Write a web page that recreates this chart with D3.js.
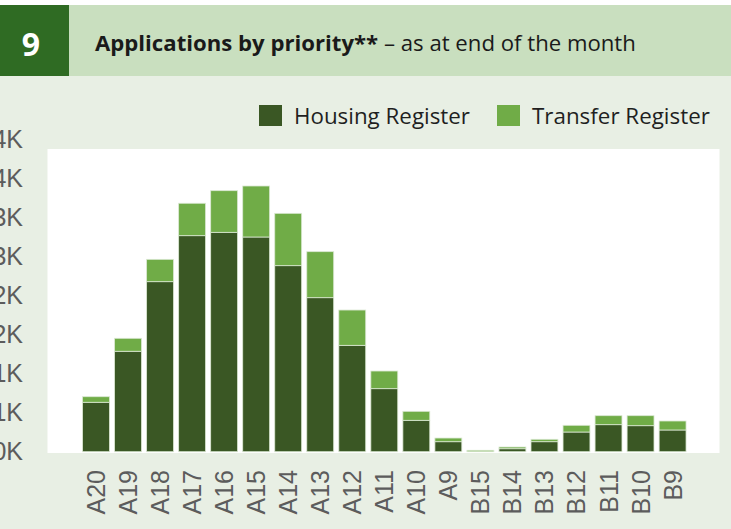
<!DOCTYPE html>
<html>
<head>
<meta charset="utf-8">
<script src="https://cdn.jsdelivr.net/npm/d3@7"></script>
<style>
  html, body { margin: 0; padding: 0; background: #ffffff; }
  svg { display: block; }
</style>
</head>
<body>
<script>
// values
var categories = ["A20", "A19", "A18", "A17", "A16", "A15", "A14", "A13", "A12", "A11",
                  "A10", "A9", "B15", "B14", "B13", "B12", "B11", "B10", "B9"];
var housing = [633, 1286, 2177, 2766, 2809, 2749, 2382, 1972, 1362, 807,
               402, 128, 0, 38, 128, 252, 346, 333, 278];
var transfer = [71, 166, 286, 415, 533, 653, 670, 589, 452, 226,
                115, 47, 18, 22, 31, 86, 115, 128, 115];
var seriesNames = ["Housing Register", "Transfer Register"];
var seriesColors = ["#3a5724", "#70ac47"];
var yTicks = [0, 500, 1000, 1500, 2000, 2500, 3000, 3500, 4000];
var yTickLabels = ["0K", "1K", "1K", "2K", "2K", "3K", "3K", "4K", "4K"];

var width = 731;
var height = 529;
var headFont = "'Open Sans', Lato, sans-serif";

var svg = d3.select("body").append("svg")
  .attr("width", width)
  .attr("height", height);

// page background
svg.append("rect")
  .attr("width", width)
  .attr("height", height)
  .attr("fill", "#e8efe4");

svg.append("rect")
  .attr("width", width)
  .attr("height", 5)
  .attr("fill", "#ffffff");

// header band
svg.append("rect")
  .attr("x", 69).attr("y", 5)
  .attr("width", width - 69).attr("height", 71)
  .attr("fill", "#c9dfbf");

svg.append("rect")
  .attr("x", 0).attr("y", 5)
  .attr("width", 69).attr("height", 71)
  .attr("fill", "#2f6b23");

svg.append("text")
  .attr("x", 31).attr("y", 56)
  .attr("text-anchor", "middle")
  .attr("font-family", headFont)
  .attr("font-weight", "bold")
  .attr("font-size", "32px")
  .attr("fill", "#ffffff")
  .text("9");

// fit text to the width it takes in the picture
function fitWidth(sel, target) {
  var w = sel.node().getComputedTextLength();
  var fs = parseFloat(sel.attr("font-size"));
  if (w > 0) sel.attr("font-size", (fs * target / w).toFixed(2) + "px");
}

var title = svg.append("text")
  .attr("x", 95).attr("y", 51)
  .attr("font-family", headFont)
  .attr("font-size", "22px")
  .attr("fill", "#1a1a1a");
title.append("tspan").attr("font-weight", "bold").text("Applications by priority**");
title.append("tspan").text(" \u2013 as at end of the month");
fitWidth(title, 541);

// legend
var legendX = [259, 497];
seriesNames.forEach(function(name, i) {
  svg.append("rect")
    .attr("x", legendX[i]).attr("y", 105)
    .attr("width", 23).attr("height", 21)
    .attr("fill", seriesColors[i]);
  var t = svg.append("text")
    .attr("x", legendX[i] + 35).attr("y", 124)
    .attr("font-family", headFont)
    .attr("font-size", "21px")
    .attr("fill", "#1f1f1f")
    .text(name);
  fitWidth(t, i === 0 ? 176 : 178);
});

// plot background
svg.append("rect")
  .attr("x", 47.5).attr("y", 149)
  .attr("width", 672).attr("height", 304)
  .attr("fill", "#ffffff");

var xScale = d3.scaleBand()
  .domain(categories)
  .range([80, 688.6])
  .paddingInner(0.16)
  .paddingOuter(0.08);

var yScale = d3.scaleLinear()
  .domain([0, 4000])
  .range([451.7, 139.3]);

var rows = categories.map(function(c, i) {
  return { cat: c, housing: housing[i], transfer: transfer[i] };
});
var stacked = d3.stack().keys(["housing", "transfer"])(rows);

svg.append("g")
  .selectAll("g")
  .data(stacked)
  .enter()
  .append("g")
    .attr("fill", function(d, i) { return seriesColors[i]; })
  .selectAll("rect")
  .data(function(d) { return d; })
  .enter()
  .append("rect")
    .attr("x", function(d) { return xScale(d.data.cat); })
    .attr("y", function(d) { return yScale(d[1]); })
    .attr("width", xScale.bandwidth())
    .attr("height", function(d) { return Math.max(0, yScale(d[0]) - yScale(d[1])); })
    .attr("stroke", "#dbe8d3")
    .attr("stroke-width", 0.8);

// y axis (labels are cut by the left edge in the original too)
var yAxis = d3.axisLeft(yScale)
  .tickValues(yTicks)
  .tickFormat(function(d, i) { return yTickLabels[i]; })
  .tickSize(0)
  .tickPadding(0);

var yG = svg.append("g")
  .attr("transform", "translate(23,0)")
  .call(yAxis);
yG.select(".domain").remove();
yG.selectAll("text")
  .attr("font-family", "'Liberation Sans', Arial, sans-serif")
  .attr("font-size", "25px")
  .attr("fill", "#5c5c5c");

// x axis
var xAxis = d3.axisBottom(xScale).tickSize(0).tickPadding(0);
var xG = svg.append("g")
  .attr("transform", "translate(0,470)")
  .call(xAxis);
xG.select(".domain").remove();
xG.selectAll("text")
  .attr("transform", "rotate(-90)")
  .attr("text-anchor", "end")
  .attr("x", 0)
  .attr("y", 0)
  .attr("dy", "0.36em")
  .attr("font-family", "'Liberation Sans', Arial, sans-serif")
  .attr("font-size", "25px")
  .attr("fill", "#5c5c5c");
</script>
</body>
</html>
